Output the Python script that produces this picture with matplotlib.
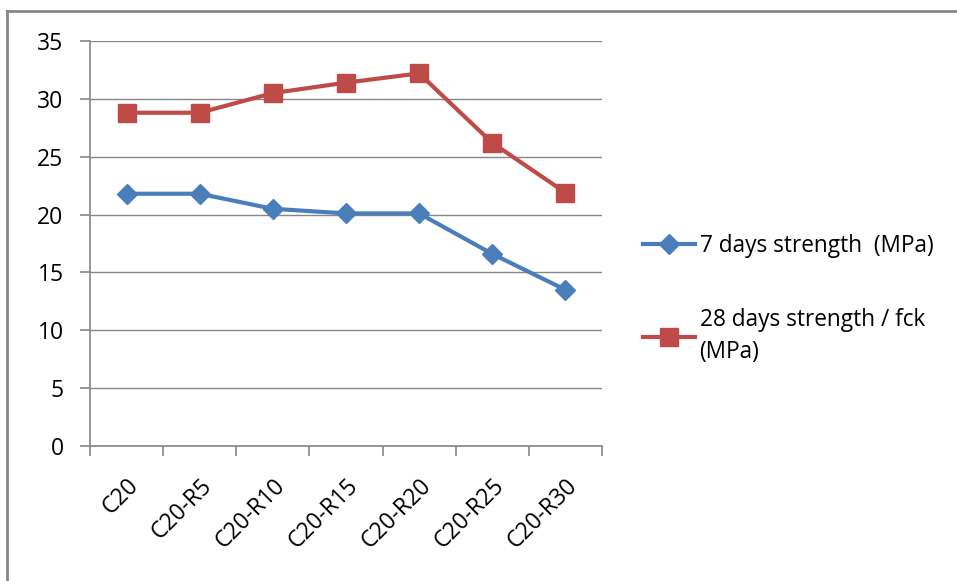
import matplotlib.pyplot as plt
from matplotlib.lines import Line2D

# data
mixes = ['C20', 'C20-R5', 'C20-R10', 'C20-R15', 'C20-R20', 'C20-R25', 'C20-R30']
strength_7d = [21.8, 21.8, 20.5, 20.1, 20.1, 16.6, 13.5]
strength_28d = [28.8, 28.8, 30.5, 31.4, 32.2, 26.2, 21.9]

plt.rcParams['font.family'] = ['Open Sans', 'DejaVu Sans']

fig = plt.figure(figsize=(9.57, 5.81), dpi=100)
ax = fig.add_axes([0.094, 0.2324, 0.535, 0.697])

x = list(range(len(mixes)))
blue = '#4a7ebb'
red = '#be4b48'
ax.plot(x, strength_7d, color=blue, lw=3, marker='D', ms=10, mec=blue, mfc=blue)
ax.plot(x, strength_28d, color=red, lw=3, marker='s', ms=13, mec=red, mfc=red)

ax.set_xlim(-0.5, len(mixes) - 0.5)
ax.set_ylim(0, 35)
ax.set_yticks(range(0, 36, 5))
ax.set_xticks(x)
ax.set_xticklabels(mixes, rotation=45, ha='right', rotation_mode='anchor', fontsize=16.5)
ax.tick_params(axis='x', length=0, pad=20)
ax.set_xticks([i - 0.5 for i in range(len(mixes) + 1)], minor=True)
ax.tick_params(axis='x', which='minor', length=7, color='#868686', width=1.2)
ax.tick_params(axis='y', labelsize=16.5, length=7, color='#868686', width=1.2, pad=12)

ax.grid(axis='y', color='#868686', lw=1)
ax.set_axisbelow(True)
for s in ['top', 'right']:
    ax.spines[s].set_visible(False)
ax.spines['left'].set_color('#868686')
ax.spines['bottom'].set_color('#868686')
ax.spines['left'].set_linewidth(1.2)
ax.spines['bottom'].set_linewidth(1.2)

# legend
handles = [Line2D([], [], color=blue, lw=3, marker='D', ms=10),
           Line2D([], [], color=red, lw=3, marker='s', ms=13)]
labels = ['7 days strength  (MPa)', '28 days strength / fck\n(MPa)']
leg = fig.legend(handles, labels, loc='upper left', bbox_to_anchor=(0.6505, 0.632),
                 frameon=False, fontsize=16.3, handlelength=2.3, handletextpad=0.2,
                 labelspacing=2.2)
for t in leg.get_texts():
    t.set_linespacing(1.45)

# chart border (top and left)
fig.add_artist(Line2D([0.0073, 0.0073], [0.0, 0.981], transform=fig.transFigure,
                      color='#868686', lw=2))
fig.add_artist(Line2D([0.0073, 1.0], [0.981, 0.981], transform=fig.transFigure,
                      color='#868686', lw=2))

plt.savefig('out.png', dpi=100)
